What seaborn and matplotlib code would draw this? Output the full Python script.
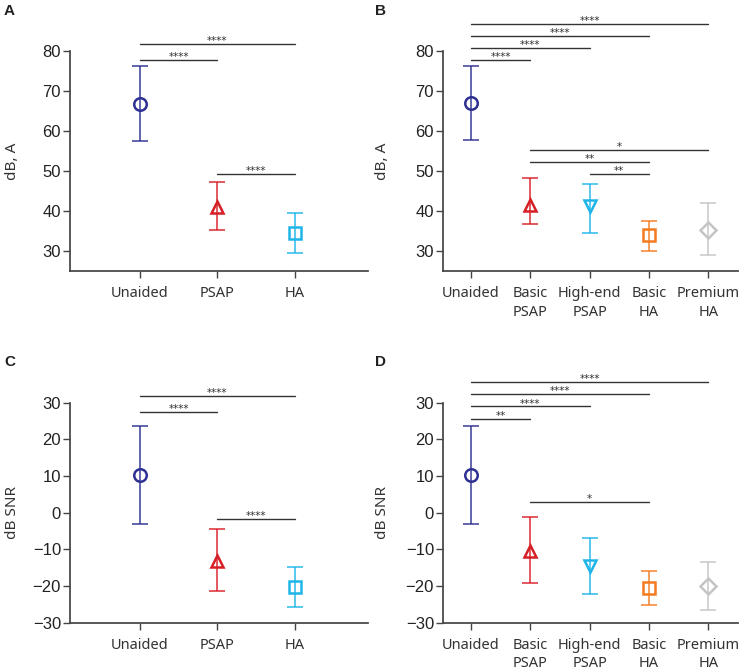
import matplotlib
matplotlib.use("Agg")
import matplotlib.pyplot as plt
import seaborn as sns

# groups
groups3 = ["Unaided", "PSAP", "HA"]
groups5 = ["Unaided", "Basic\nPSAP", "High-end\nPSAP", "Basic\nHA", "Premium\nHA"]

# panel A: dB, A (mean, lower, upper)
a_mean = [66.8, 41.0, 34.5]
a_low = [57.5, 35.2, 29.5]
a_high = [76.2, 47.3, 39.5]

# panel B
b_mean = [67.0, 41.6, 41.2, 33.9, 35.3]
b_low = [57.7, 36.8, 34.6, 30.0, 29.0]
b_high = [76.3, 48.2, 46.7, 37.4, 41.9]

# panel C: dB SNR
c_mean = [10.2, -13.1, -20.2]
c_low = [-3.0, -21.4, -25.8]
c_high = [23.6, -4.5, -14.9]

# panel D
d_mean = [10.2, -10.4, -14.4, -20.6, -20.0]
d_low = [-3.2, -19.3, -22.3, -25.1, -26.5]
d_high = [23.6, -1.1, -7.0, -16.0, -13.4]

# significance brackets: (from, to, height, label)
a_sig = [(0, 2, 81.8, "****"), (0, 1, 77.7, "****"), (1, 2, 49.3, "****")]
b_sig = [(0, 4, 86.7, "****"), (0, 3, 83.75, "****"), (0, 2, 80.7, "****"),
         (0, 1, 77.75, "****"), (1, 4, 55.2, "*"), (1, 3, 52.25, "**"),
         (2, 3, 49.3, "**")]
c_sig = [(0, 2, 31.9, "****"), (0, 1, 27.5, "****"), (1, 2, -1.8, "****")]
d_sig = [(0, 4, 35.6, "****"), (0, 3, 32.3, "****"), (0, 2, 29.0, "****"),
         (0, 1, 25.7, "**"), (1, 3, 3.0, "*")]

colors5 = ["#2e3192", "#d71f26", "#1fb5e8", "#f47b20", "#c4c4c4"]
colors3 = ["#2e3192", "#d71f26", "#1fb5e8"]
markers5 = ["o", "^", "v", "s", "D"]
markers3 = ["o", "^", "s"]

sns.set_theme(style="ticks")
plt.rcParams["font.family"] = ["Liberation Sans", "DejaVu Sans"]
plt.rcParams["axes.edgecolor"] = "#444444"
plt.rcParams["xtick.color"] = "#444444"
plt.rcParams["ytick.color"] = "#444444"

fig = plt.figure(figsize=(7.4, 6.71), dpi=100)
W, H = 740, 671


def px_axes(left, top, right, bottom):
    return fig.add_axes([left / W, 1 - bottom / H, (right - left) / W, (bottom - top) / H])


def panel(ax, labels, mean, low, high, colors, markers, sig, ylim, yticks, ylabel, xlim, labx):
    for i, (m, lo, hi) in enumerate(zip(mean, low, high)):
        ax.errorbar(i, m, yerr=[[m - lo], [hi - m]], fmt="none", ecolor=colors[i],
                    elinewidth=1.3, capsize=5.5, capthick=1.3, alpha=0.8, zorder=2)
        ax.plot(i, m, marker=markers[i], ms=9 if markers[i] != "D" else 8,
                mfc="none", mec=colors[i], mew=1.8, ls="none", zorder=3)
    for x0, x1, y, lab in sig:
        ax.plot([x0, x1], [y, y], color="#333333", lw=1, zorder=1)
        ax.annotate(lab, ((x0 + x1) / 2, y), xytext=(0, -1.5), textcoords="offset points",
                    ha="center", va="bottom", fontsize=7.5, color="#333333",
                    family="DejaVu Sans")
    ax.set_xlim(*xlim)
    ax.set_ylim(*ylim)
    ax.set_yticks(yticks)
    ax.set_xticks(range(len(labels)))
    ax.set_xticklabels(labels, family="Noto Sans", fontsize=10.5, color="#333333",
                       linespacing=1.3)
    ax.tick_params(axis="y", labelsize=12, length=5, width=1, pad=1.5, labelcolor="#222222")
    ax.tick_params(axis="x", length=5, width=1, pad=6)
    ax.set_ylabel(ylabel, family="Noto Sans", fontsize=11, color="#333333")
    mid = ((ylim[0] + yticks[-1]) / 2 - ylim[0]) / (ylim[1] - ylim[0])
    ax.yaxis.set_label_coords(labx, mid)
    sns.despine(ax=ax)
    ax.spines["left"].set_bounds(ylim[0], yticks[-1])


ax_a = px_axes(70, 18, 368, 271)
panel(ax_a, groups3, a_mean, a_low, a_high, colors3, markers3, a_sig,
      (25, 88.25), list(range(30, 81, 10)), "dB, A", (-0.9, 2.94), -0.168)

ax_b = px_axes(443, 18, 738, 271)
panel(ax_b, groups5, b_mean, b_low, b_high, colors5, markers5, b_sig,
      (25, 88.25), list(range(30, 81, 10)), "dB, A", (-0.47, 4.5), -0.18)

ax_c = px_axes(70, 372, 368, 622.7)
panel(ax_c, groups3, c_mean, c_low, c_high, colors3, markers3, c_sig,
      (-30, 38.4), list(range(-30, 31, 10)), "dB SNR", (-0.9, 2.94), -0.168)

ax_d = px_axes(443, 372, 738, 622.7)
panel(ax_d, groups5, d_mean, d_low, d_high, colors5, markers5, d_sig,
      (-30, 38.4), list(range(-30, 31, 10)), "dB SNR", (-0.47, 4.5), -0.18)

for lab, x, y in [("A", 4, 4), ("B", 375, 4), ("C", 4, 355), ("D", 375, 355)]:
    fig.text(x / W, 1 - y / H, lab, fontsize=11, fontweight="bold", va="top", ha="left",
             color="#222222")

fig.savefig("out.png", dpi=100)
